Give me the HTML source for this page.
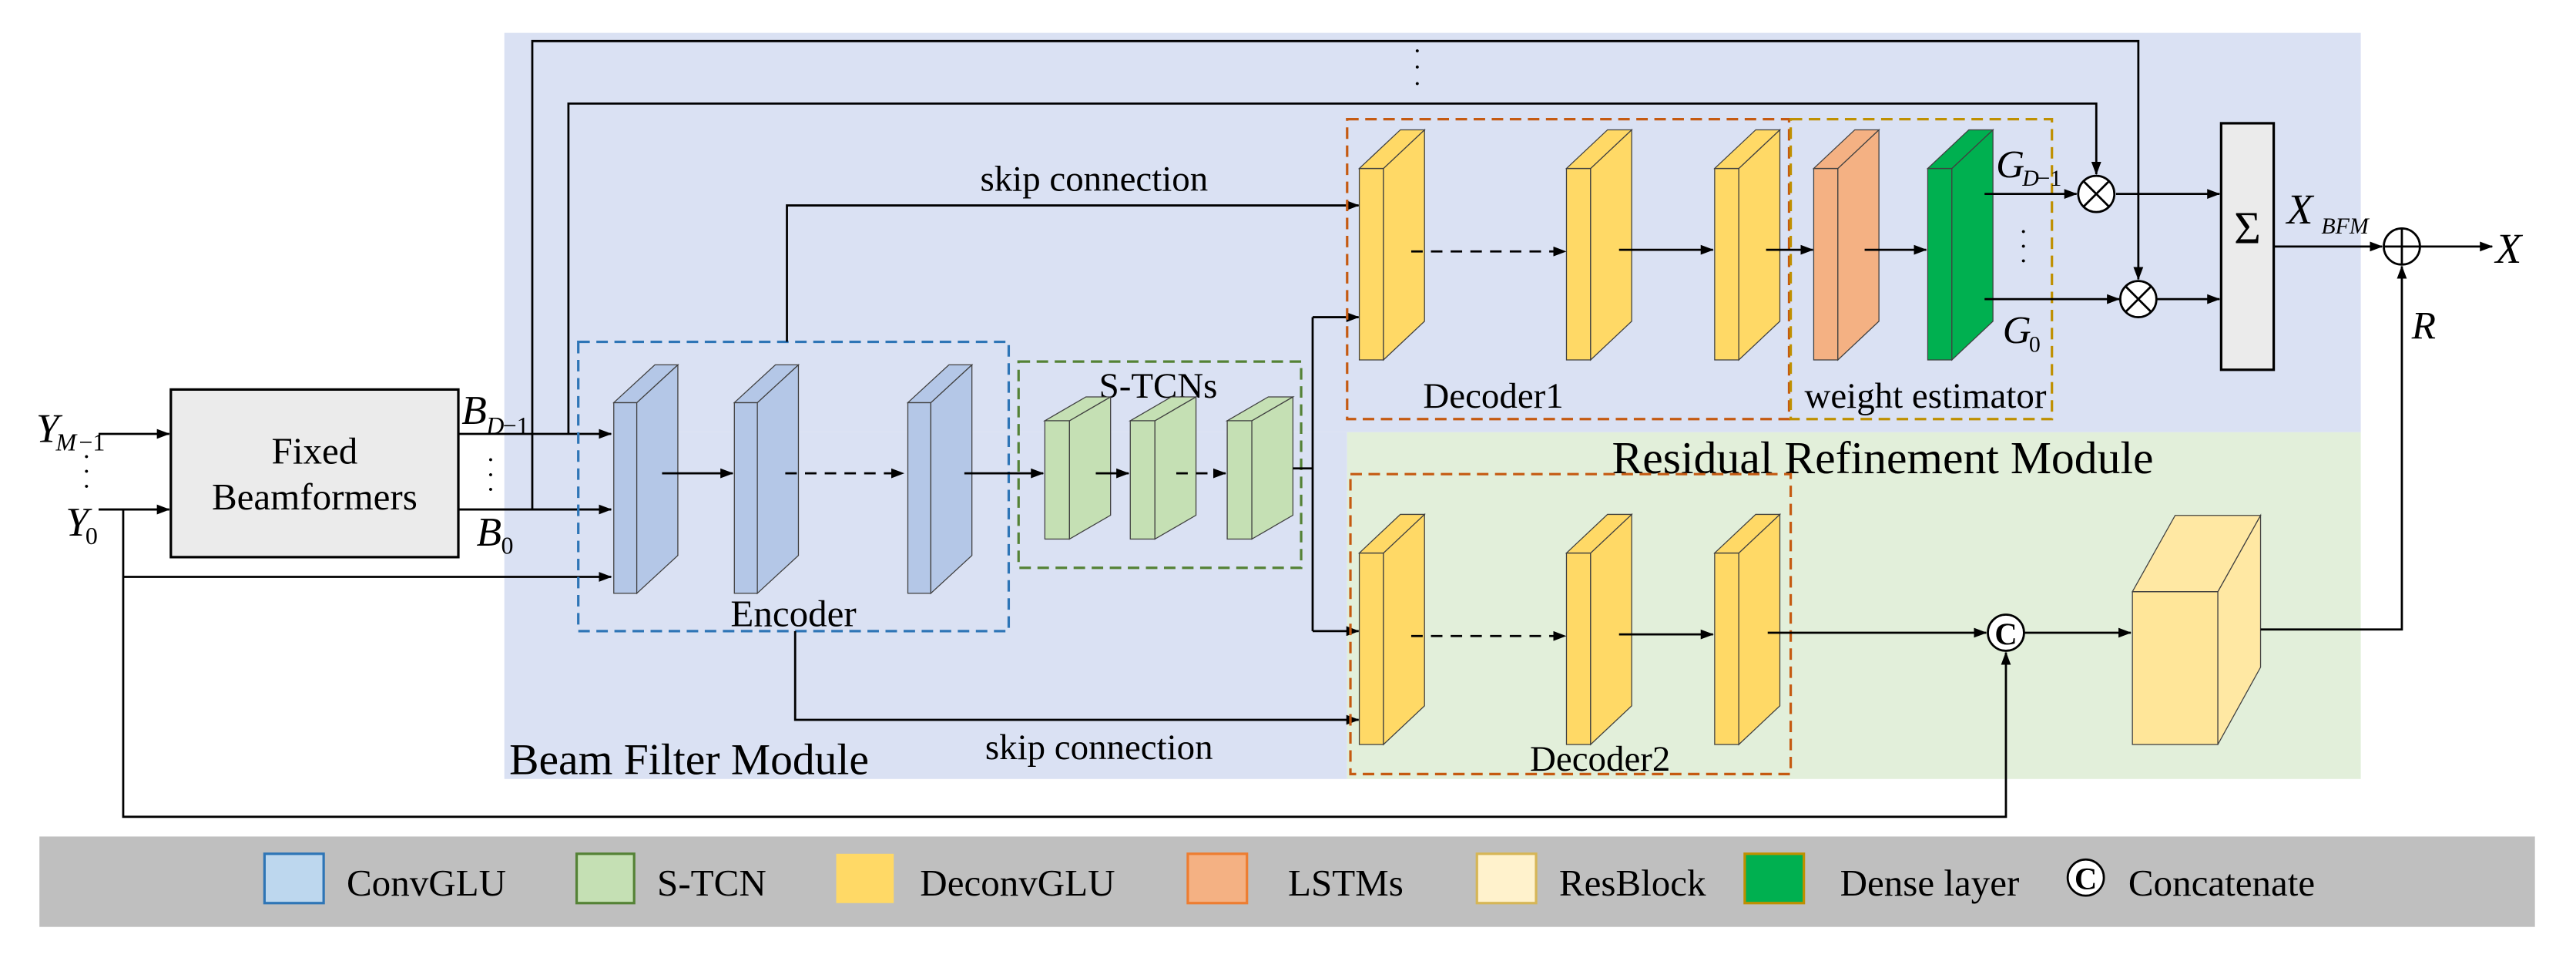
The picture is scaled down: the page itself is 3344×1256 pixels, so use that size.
<!DOCTYPE html>
<html><head><meta charset="utf-8"><style>html,body{margin:0;padding:0;background:#fff}svg{display:block}svg text{font-family:'Liberation Serif','Times New Roman',serif;fill:#000}</style></head><body>
<svg width="3344" height="1256" viewBox="0 0 1568 589" preserveAspectRatio="none" xmlns="http://www.w3.org/2000/svg" style="font-family:'Liberation Serif','Times New Roman',serif" font-family="Liberation Serif, serif">
<defs>
<marker id="a" markerWidth="8" markerHeight="6" refX="7.5" refY="3" orient="auto" markerUnits="userSpaceOnUse"><path d="M0,0 L8,3 L0,6 z" fill="#000"/></marker>
<g id="enc" stroke="#404040" stroke-width="0.6"><rect x="0" y="23" width="14" height="116"/><polygon points="14,23 39,0 39,116 14,139"/><polygon points="0,23 25,0 39,0 14,23"/></g>
<g id="stc" stroke="#404040" stroke-width="0.6"><rect x="0" y="14.5" width="15" height="72"/><polygon points="15,14.5 40,0 40,72 15,86.5"/><polygon points="0,14.5 25,0 40,0 15,14.5"/></g>
<g id="dec" stroke="#404040" stroke-width="0.6"><rect x="0" y="23.5" width="14.7" height="116.5"/><polygon points="14.7,23.5 39.7,0 39.7,116.5 14.7,140"/><polygon points="0,23.5 25,0 39.7,0 14.7,23.5"/></g>
</defs>
<rect x="307" y="20" width="1130" height="243" fill="#dae1f3"/>
<rect x="307" y="263" width="513" height="211" fill="#dae1f3"/>
<rect x="820" y="263" width="617" height="211" fill="#e2efda"/>
<rect x="24" y="509" width="1519" height="55" fill="#bfbfbf"/>

<rect x="104" y="237" width="175" height="102" fill="#ebebeb" stroke="#000" stroke-width="1.5"/>
<text x="191.5" y="282" font-size="23" text-anchor="middle">Fixed</text>
<text x="191.5" y="310" font-size="23" text-anchor="middle">Beamformers</text>
<text x="22" y="269" font-size="25" font-style="italic">Y</text><text x="34" y="274" font-size="15" font-style="italic">M</text><text x="48" y="274" font-size="15">−1</text>
<text x="40" y="326" font-size="25" font-style="italic">Y</text><text x="52" y="331" font-size="15">0</text>
<text x="50" y="283" font-size="16">·</text><text x="50" y="292" font-size="16">·</text><text x="50" y="301" font-size="16">·</text>
<g stroke="#000" stroke-width="1.3" fill="none">
<line x1="60" y1="264" x2="103" y2="264" marker-end="url(#a)"/>
<line x1="60" y1="310" x2="103" y2="310" marker-end="url(#a)"/>
<polyline points="75,310 75,497 1221,497 1221,397" marker-end="url(#a)"/>
<line x1="75" y1="351" x2="372" y2="351" marker-end="url(#a)"/>
<line x1="279" y1="264" x2="372" y2="264" marker-end="url(#a)"/>
<line x1="279" y1="310" x2="372" y2="310" marker-end="url(#a)"/>
<polyline points="324,310 324,25 1301.6,25 1301.6,170" marker-end="url(#a)"/>
<polyline points="346,264 346,63 1276,63 1276,106" marker-end="url(#a)"/>
</g>
<text x="281" y="258" font-size="25" font-style="italic">B</text><text x="296" y="264" font-size="15" font-style="italic">D</text><text x="306" y="264" font-size="15">−1</text>
<text x="290" y="332" font-size="25" font-style="italic">B</text><text x="305" y="337" font-size="15">0</text>
<text x="296" y="285" font-size="16">·</text><text x="296" y="294" font-size="16">·</text><text x="296" y="303" font-size="16">·</text>
<text x="860" y="36" font-size="16">·</text><text x="860" y="46" font-size="16">·</text><text x="860" y="56" font-size="16">·</text>

<rect x="352" y="208" width="262" height="176" fill="none" stroke="#2e75b6" stroke-width="1.5" stroke-dasharray="7,4"/>
<use href="#enc" x="373.6" y="222" fill="#b4c7e7"/>
<use href="#enc" x="447" y="222" fill="#b4c7e7"/>
<use href="#enc" x="552.6" y="222" fill="#b4c7e7"/>
<text x="483" y="381" font-size="23" text-anchor="middle">Encoder</text>
<rect x="620" y="220" width="172" height="125.5" fill="none" stroke="#548235" stroke-width="1.5" stroke-dasharray="7,4"/>
<text x="705" y="242" font-size="22" text-anchor="middle">S-TCNs</text>
<use href="#stc" x="636" y="241.5" fill="#c5e0b4"/>
<use href="#stc" x="688" y="241.5" fill="#c5e0b4"/>
<use href="#stc" x="747" y="241.5" fill="#c5e0b4"/>
<g stroke="#000" stroke-width="1.3" fill="none">
<line x1="403" y1="288" x2="446" y2="288" marker-end="url(#a)"/>
<line x1="478" y1="288" x2="550" y2="288" stroke-dasharray="7,5" marker-end="url(#a)"/>
<line x1="587" y1="288" x2="635" y2="288" marker-end="url(#a)"/>
<line x1="667" y1="288" x2="687" y2="288" marker-end="url(#a)"/>
<line x1="716" y1="288" x2="746" y2="288" stroke-dasharray="7,5" marker-end="url(#a)"/>
<line x1="787" y1="285" x2="799" y2="285"/>
<line x1="799" y1="193" x2="799" y2="384"/>
<line x1="799" y1="193" x2="827" y2="193" marker-end="url(#a)"/>
<line x1="799" y1="384" x2="827" y2="384" marker-end="url(#a)"/>
<polyline points="479,208 479,125 827,125" marker-end="url(#a)"/>
<polyline points="484,384 484,438 827,438" marker-end="url(#a)"/>
</g>
<text x="666" y="116" font-size="22" text-anchor="middle">skip connection</text>
<text x="669" y="462" font-size="22" text-anchor="middle">skip connection</text>
<text x="310" y="471" font-size="27">Beam Filter Module</text>
<text x="1146" y="288" font-size="28" text-anchor="middle">Residual Refinement Module</text>

<rect x="820" y="72.5" width="269" height="182.5" fill="none" stroke="#c55a11" stroke-width="1.5" stroke-dasharray="7,4"/>
<rect x="1090" y="72.5" width="159" height="182.5" fill="none" stroke="#bf9000" stroke-width="1.5" stroke-dasharray="7,4"/>
<use href="#dec" x="827.4" y="79" fill="#ffd966"/>
<use href="#dec" x="953.5" y="79" fill="#ffd966"/>
<use href="#dec" x="1043.7" y="79" fill="#ffd966"/>
<use href="#dec" x="1104" y="79" fill="#f4b183"/>
<use href="#dec" x="1173.4" y="79" fill="#00b050"/>
<text x="909" y="248" font-size="22" text-anchor="middle">Decoder1</text>
<text x="1172" y="248" font-size="22" text-anchor="middle">weight estimator</text>
<rect x="822" y="288.5" width="268" height="182.5" fill="none" stroke="#c55a11" stroke-width="1.5" stroke-dasharray="7,4"/>
<use href="#dec" x="827.4" y="313" fill="#ffd966"/>
<use href="#dec" x="953.5" y="313" fill="#ffd966"/>
<use href="#dec" x="1043.7" y="313" fill="#ffd966"/>
<text x="974" y="469" font-size="22" text-anchor="middle">Decoder2</text>
<g stroke="#404040" stroke-width="0.6" fill="#ffe699"><rect x="1298" y="360" width="52" height="93"/><polygon points="1350,360 1376,313.6 1376,406 1350,453" fill="#ffe8a3"/><polygon points="1298,360 1324,313.6 1376,313.6 1350,360" fill="#ffe8a3"/></g>

<g stroke="#000" stroke-width="1.3" fill="none">
<line x1="859" y1="153" x2="953" y2="153" stroke-dasharray="7,5" marker-end="url(#a)"/>
<line x1="985.5" y1="152" x2="1042.7" y2="152" marker-end="url(#a)"/>
<line x1="1075" y1="152" x2="1103.5" y2="152" marker-end="url(#a)"/>
<line x1="1135" y1="152" x2="1172.5" y2="152" marker-end="url(#a)"/>
<line x1="859" y1="387" x2="953" y2="387" stroke-dasharray="7,5" marker-end="url(#a)"/>
<line x1="985.5" y1="386" x2="1042.7" y2="386" marker-end="url(#a)"/>
<line x1="1076" y1="385" x2="1209" y2="385" marker-end="url(#a)"/>
<line x1="1232" y1="385" x2="1297" y2="385" marker-end="url(#a)"/>
<polyline points="1376,383 1462,383 1462,162" marker-end="url(#a)"/>
<line x1="1208" y1="118" x2="1264" y2="118" marker-end="url(#a)"/>
<line x1="1208" y1="182" x2="1290" y2="182" marker-end="url(#a)"/>
<line x1="1288" y1="118" x2="1351" y2="118" marker-end="url(#a)"/>
<line x1="1313" y1="182" x2="1351" y2="182" marker-end="url(#a)"/>
<line x1="1384" y1="150" x2="1450" y2="150" marker-end="url(#a)"/>
<line x1="1473" y1="150" x2="1517" y2="150" marker-end="url(#a)"/>
</g>
<g stroke="#000" stroke-width="1.3" fill="#fff">
<circle cx="1276" cy="118" r="11"/><circle cx="1301.6" cy="182" r="11"/><circle cx="1462" cy="150" r="11"/><circle cx="1221" cy="385" r="11"/>
</g>
<g stroke="#000" stroke-width="1.3">
<line x1="1268.2" y1="110.2" x2="1283.8" y2="125.8"/><line x1="1283.8" y1="110.2" x2="1268.2" y2="125.8"/>
<line x1="1293.8" y1="174.2" x2="1309.4" y2="189.8"/><line x1="1309.4" y1="174.2" x2="1293.8" y2="189.8"/>
<line x1="1451" y1="150" x2="1473" y2="150"/><line x1="1462" y1="139" x2="1462" y2="161"/>
</g>
<text x="1221" y="392" font-size="19" font-weight="bold" text-anchor="middle">C</text>
<rect x="1352" y="75" width="32" height="150" fill="#ebebeb" stroke="#000" stroke-width="1.5"/>
<text x="1368" y="148" font-size="28" text-anchor="middle">Σ</text>
<text x="1215" y="108" font-size="24" font-style="italic">G</text><text x="1231" y="113" font-size="14" font-style="italic">D</text><text x="1240" y="113" font-size="14">−1</text>
<text x="1219" y="209" font-size="24" font-style="italic">G</text><text x="1235" y="214" font-size="14">0</text>
<text x="1229" y="146" font-size="16">·</text><text x="1229" y="155" font-size="16">·</text><text x="1229" y="164" font-size="16">·</text>
<text x="1392" y="136" font-size="26" font-style="italic">X</text><text x="1413" y="142" font-size="14" font-style="italic">BFM</text>
<text x="1519" y="160" font-size="26" font-style="italic">X</text>
<text x="1468" y="206" font-size="24" font-style="italic">R</text>

<rect x="161" y="519.5" width="36" height="30" fill="#bdd7ee" stroke="#2e75b6" stroke-width="1.5"/>
<text x="211" y="545" font-size="23">ConvGLU</text>
<rect x="351" y="519.5" width="35" height="30" fill="#c5e0b4" stroke="#548235" stroke-width="1.5"/>
<text x="400" y="545" font-size="23">S-TCN</text>
<rect x="509" y="519.5" width="35" height="30" fill="#ffd966"/>
<text x="560" y="545" font-size="23">DeconvGLU</text>
<rect x="723" y="519.5" width="36" height="30" fill="#f4b183" stroke="#ed7d31" stroke-width="1.5"/>
<text x="784" y="545" font-size="23">LSTMs</text>
<rect x="899" y="519.5" width="36" height="30" fill="#fff2cc" stroke="#d6b656" stroke-width="1.5"/>
<text x="949" y="545" font-size="23">ResBlock</text>
<rect x="1062" y="519.5" width="36" height="30" fill="#00b050" stroke="#bf9000" stroke-width="1.5"/>
<text x="1120" y="545" font-size="23">Dense layer</text>
<circle cx="1269.6" cy="534" r="11" fill="#fff" stroke="#000" stroke-width="1.3"/>
<text x="1269.6" y="541" font-size="19" font-weight="bold" text-anchor="middle">C</text>
<text x="1295.5" y="545" font-size="23">Concatenate</text>
</svg>
</body></html>
